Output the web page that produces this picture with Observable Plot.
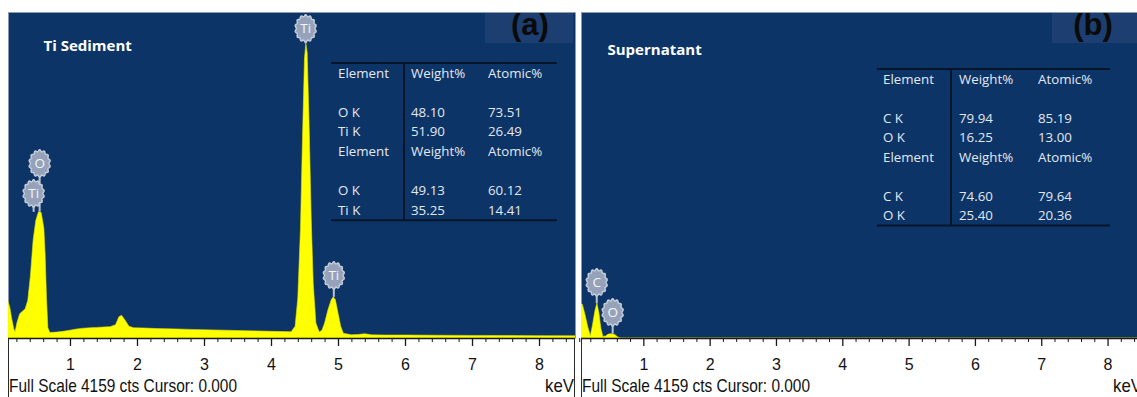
<!DOCTYPE html>
<html>
<head>
<meta charset="utf-8">
<script src="https://cdn.jsdelivr.net/npm/d3@7"></script>
<script src="https://cdn.jsdelivr.net/npm/@observablehq/plot@0.6"></script>
<style>
  body { margin: 0; background: #fff; }
  #fig { position: relative; width: 1137px; height: 397px; overflow: hidden; background: #fff; }
  #fig > svg { position: absolute; top: 0; }
</style>
</head>
<body>
<div id="fig"></div>
<script>
// ---- EDS spectra (energy in keV, intensity in counts) ----
const sedimentKeV = [0.075, 0.10, 0.13, 0.16, 0.18, 0.21, 0.25, 0.29, 0.33, 0.37, 0.41, 0.45, 0.49, 0.53, 0.57, 0.61, 0.63, 0.65, 0.67, 0.70,
  0.80, 0.90, 1.00, 1.10, 1.20, 1.30, 1.40, 1.50, 1.60, 1.68, 1.73, 1.77, 1.82, 1.88, 1.95, 2.10, 2.30, 2.60, 2.80, 3.00, 3.30, 3.50, 3.80, 4.00, 4.30,
  4.36, 4.40, 4.44, 4.47, 4.50, 4.52, 4.54, 4.57, 4.60, 4.63, 4.67, 4.72, 4.76, 4.80, 4.85, 4.90, 4.93, 4.96, 5.00, 5.04, 5.08,
  5.20, 5.30, 5.40, 5.50, 5.70, 6.00, 6.50, 7.00, 7.50, 8.00, 8.54];
const sedimentCounts = [460, 400, 250, 120, 80, 200, 310, 340, 370, 480, 800, 1250, 1500, 1610, 1600, 1400, 1050, 500, 130, 70,
  75, 85, 100, 115, 125, 130, 135, 140, 145, 170, 270, 290, 230, 150, 130, 128, 120, 115, 110, 105, 100, 95, 90, 85, 80,
  150, 510, 1400, 2550, 3570, 3760, 3640, 2680, 1530, 700, 190, 75, 100, 190, 360, 490, 525, 490, 320, 150, 60,
  40, 45, 55, 40, 38, 38, 35, 33, 32, 30, 28];

const supernatantKeV = [0.06, 0.08, 0.12, 0.16, 0.20, 0.23, 0.27, 0.30, 0.33, 0.36, 0.39, 0.43, 0.47, 0.52, 0.57, 0.61, 0.66, 8.64];
const supernatantCounts = [440, 430, 300, 150, 30, 150, 350, 445, 320, 120, 20, 25, 50, 55, 45, 15, 0, 0];

// ---- peak identification tags ----
const sedimentTags = ["Ti", "O", "Ti", "Ti"];
const sedimentTagKeV = [0.45, 0.54, 4.51, 4.93];
const sedimentTagFoot = [1610, 1610, 3760, 525];
const sedimentTagCounts = [1850, 2233, 3955, 804];

const supernatantTags = ["C", "O"];
const supernatantTagKeV = [0.29, 0.53];
const supernatantTagFoot = [445, 55];
const supernatantTagCounts = [715, 332];

// ---- quantification tables ----
const tableHeader = ["Element", "Weight%", "Atomic%"];
const sedimentRunA = [["O K", "48.10", "73.51"], ["Ti K", "51.90", "26.49"]];
const sedimentRunB = [["O K", "49.13", "60.12"], ["Ti K", "35.25", "14.41"]];
const supernatantRunA = [["C K", "79.94", "85.19"], ["O K", "16.25", "13.00"]];
const supernatantRunB = [["C K", "74.60", "79.64"], ["O K", "25.40", "20.36"]];

// ---- axis and captions ----
const keVTicks = [1, 2, 3, 4, 5, 6, 7, 8];
const fullScale = 4159;
const cursor = "0.000";
const panelTitles = ["Ti Sediment", "Supernatant"];
const panelLetters = ["(a)", "(b)"];

// ---- styling ----
const BLUE = "#0c3466";
const YELLOW = "#ffff00";
const TAG_FILL = "#95a2b9";
const TAG_EDGE = "#c4ccd9";
const BODY = "Open Sans, Noto Sans, sans-serif";
const SANS = "Liberation Sans, Arial, sans-serif";

// scalloped badge used for element tags
const scallop = {
  draw(context, size) {
    const r = Math.sqrt(size / Math.PI);
    const n = 14, steps = 140;
    for (let i = 0; i <= steps; ++i) {
      const t = (i / steps) * 2 * Math.PI;
      const rr = r * (1 + 0.07 * Math.cos(n * t));
      const x = rr * Math.sin(t), y = -rr * 1.28 * Math.cos(t);
      i ? context.lineTo(x, y) : context.moveTo(x, y);
    }
    context.closePath();
  }
};

function tableMark(runA, runB, L) {
  return () => {
    const g = d3.create("svg:g")
      .attr("font-family", BODY).attr("font-size", 13.3).attr("fill", "#e3e8f0")
      .attr("text-anchor", "start");
    const slots = [[0, tableHeader], [2, runA[0]], [3, runA[1]], [4, tableHeader], [6, runB[0]], [7, runB[1]]];
    for (const [slot, cells] of slots) {
      cells.forEach((c, j) => {
        g.append("text")
          .attr("x", L.x + L.cols[j])
          .attr("y", L.top + slot * L.step)
          .attr("dy", "0.35em")
          .text(c);
      });
    }
    const y0 = L.top - 10, y1 = L.top + 7 * L.step + 10;
    const line = (x1, ya, x2, yb) => g.append("line")
      .attr("x1", x1).attr("y1", ya).attr("x2", x2).attr("y2", yb)
      .attr("stroke", "#07152b").attr("stroke-width", 2);
    line(L.x, y0, L.x + L.w, y0);
    line(L.x, y1, L.x + L.w, y1);
    line(L.x + L.div, y0, L.x + L.div, y1);
    return g.node();
  };
}

function chromeMark(L) {
  return () => {
    const g = d3.create("svg:g");
    // letter box
    g.append("rect").attr("x", L.boxX).attr("y", 12).attr("width", L.boxW).attr("height", 31).attr("fill", "#1c3e70");
    g.append("text").attr("x", L.letterX).attr("y", 35)
      .attr("text-anchor", "middle").attr("font-family", SANS)
      .attr("font-weight", "bold").attr("font-size", 31).attr("fill", "#0a0a0a").text(L.letter);
    // panel edges
    g.append("line").attr("x1", L.left).attr("x2", L.right).attr("y1", 12.5).attr("y2", 12.5)
      .attr("stroke", "#8d9bb0").attr("stroke-width", 1);
    for (const x of [L.left + 0.5, L.right - 0.5]) {
      g.append("line").attr("x1", x).attr("x2", x).attr("y1", 338).attr("y2", 397)
        .attr("stroke", "#2a2a2a").attr("stroke-width", 1);
    }
    // instrument footer, condensed to the instrument's narrow face
    const foot = g.append("g").attr("font-family", SANS).attr("font-size", 18.5).attr("fill", "#111");
    foot.append("text").attr("x", L.left + 1).attr("y", 392).attr("text-anchor", "start")
      .attr("textLength", 228).attr("lengthAdjust", "spacingAndGlyphs")
      .text(`Full Scale ${fullScale} cts Cursor: ${cursor}`);
    foot.append("text").attr("x", L.kevX).attr("y", 392).attr("text-anchor", "start")
      .attr("textLength", 29).attr("lengthAdjust", "spacingAndGlyphs")
      .text("keV");
    return g.node();
  };
}

function panel(o) {
  const spectrum = o.keV.map((k, i) => ({keV: k, counts: o.counts[i]}));
  const tags = o.tags.map((t, i) => ({name: t, keV: o.tagKeV[i], foot: o.tagFoot[i], counts: o.tagCounts[i]}));
  const minor = d3.range(2, 88, 2).map((d) => d / 10).filter((d) => d % 1 !== 0);
  return Plot.plot({
    width: o.width,
    height: 397,
    marginTop: 12,
    marginBottom: 59,
    marginLeft: o.marginLeft,
    marginRight: o.marginRight,
    x: {domain: o.domain},
    y: {domain: [0, 4159], axis: null},
    style: {background: "transparent", overflow: "visible"},
    marks: [
      Plot.frame({fill: BLUE}),
      Plot.areaY(spectrum, {x: "keV", y: "counts", fill: YELLOW, stroke: "#e6e600", strokeWidth: 0.6, clip: true}),
      Plot.ruleY([0], {stroke: "#1a1a1a", strokeWidth: 1.5}),
      Plot.axisX({ticks: minor, tickSize: 4, tickFormat: () => "", stroke: "#1a1a1a", label: null}),
      Plot.axisX({
        ticks: keVTicks, tickSize: 8, tickPadding: 12, tickFormat: d3.format("d"), stroke: "#1a1a1a",
        label: null, fontFamily: SANS, fontSize: 16, fill: "#111", strokeWidth: 1.3
      }),
      // tag stems, badges and element symbols
      Plot.ruleX(tags, {x: "keV", y1: "foot", y2: "counts", stroke: "#b9c3d3", strokeWidth: 2}),
      Plot.dot(tags, {x: "keV", y: "counts", r: 10, symbol: scallop, fill: TAG_FILL, stroke: TAG_EDGE, strokeWidth: 1.5}),
      Plot.text(tags, {x: "keV", y: "counts", text: "name", fill: "#f4f6fa", fontSize: 13.5, fontFamily: BODY}),
      // panel title
      Plot.text([o.title], {
        frameAnchor: "top-left", dx: o.titleDx, dy: o.titleDy, fill: "#ffffff", fontWeight: "bold",
        fontSize: 15, fontFamily: BODY, textAnchor: "start"
      }),
      tableMark(o.runA, o.runB, o.table),
      chromeMark(o.chrome)
    ]
  });
}

const fig = document.getElementById("fig");

const left = panel({
  keV: sedimentKeV, counts: sedimentCounts,
  tags: sedimentTags, tagKeV: sedimentTagKeV, tagFoot: sedimentTagFoot, tagCounts: sedimentTagCounts,
  runA: sedimentRunA, runB: sedimentRunB,
  title: panelTitles[0],
  width: 577, marginLeft: 8, marginRight: 2, domain: [0.075, 8.537],
  titleDx: 35, titleDy: 28,
  table: {x: 331, w: 226, div: 73, cols: [7, 80, 157], top: 73, step: 19.6},
  chrome: {boxX: 485, boxW: 88, letterX: 530, letter: panelLetters[0], left: 8, right: 575, kevX: 545}
});
left.style.left = "0px";
fig.appendChild(left);

const right = panel({
  keV: supernatantKeV, counts: supernatantCounts,
  tags: supernatantTags, tagKeV: supernatantTagKeV, tagFoot: supernatantTagFoot, tagCounts: supernatantTagCounts,
  runA: supernatantRunA, runB: supernatantRunB,
  title: panelTitles[1],
  width: 575, marginLeft: 4, marginRight: 2, domain: [0.06, 8.64],
  titleDx: 26, titleDy: 32,
  table: {x: 300, w: 233, div: 74, cols: [6, 82, 161], top: 79, step: 19.5},
  chrome: {boxX: 475, boxW: 100, letterX: 516, letter: panelLetters[1], left: 4, right: 573, kevX: 536}
});
right.style.left = "577px";
fig.appendChild(right);
</script>
</body>
</html>
